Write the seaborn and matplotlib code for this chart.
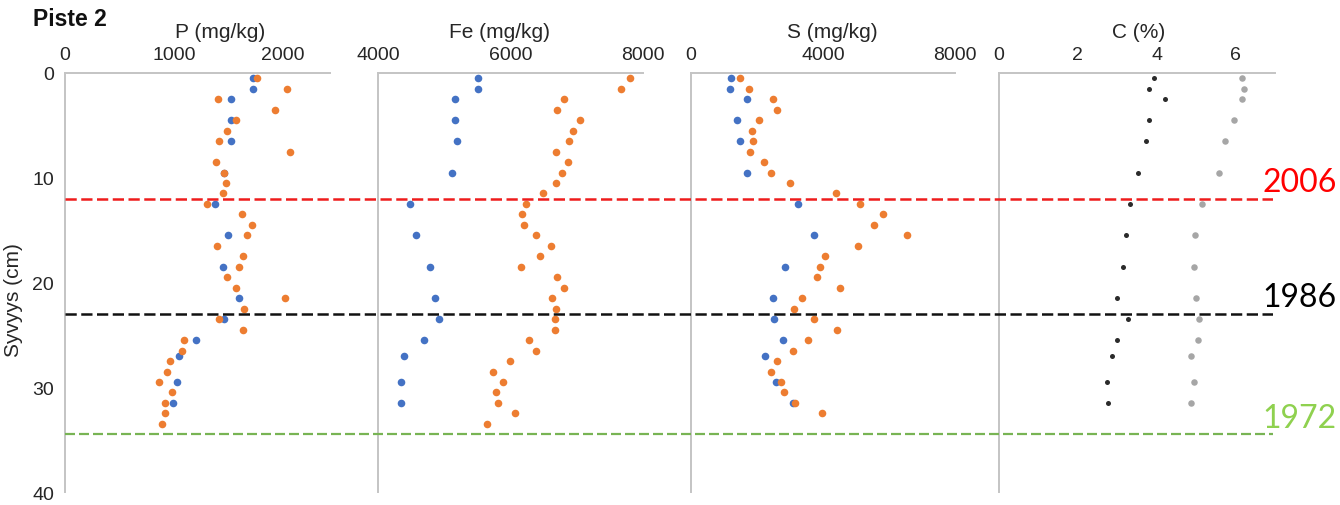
import numpy as np
import pandas as pd
import matplotlib
matplotlib.use("Agg")
import matplotlib.pyplot as plt
import seaborn as sns

# ---------------- data ----------------
depth_orange = [0.5, 1.5, 2.5, 3.5, 4.5, 5.5, 6.5, 7.5, 8.5, 9.5, 10.5, 11.5, 12.5, 13.5, 14.5,
                15.5, 16.5, 17.5, 18.5, 19.5, 20.5, 21.5, 22.5, 23.5, 24.5, 25.5, 26.5, 27.5,
                28.5, 29.5, 30.5, 31.5, 32.5, 33.5]
depth_blue = [0.5, 1.5, 2.5, 4.5, 6.5, 9.5, 12.5, 15.5, 18.5, 21.5, 23.5, 25.5, 27.0, 29.5, 31.5]

P_orange = [1763, 2039, 1401, 1929, 1570, 1484, 1414, 2067, 1386, 1460, 1478, 1453, 1303, 1625, 1717,
            1665, 1398, 1631, 1592, 1481, 1564, 2015, 1638, 1411, 1631, 1089, 1070, 960,
            938, 859, 984, 917, 917, 886]
P_blue = [1723, 1723, 1518, 1518, 1518, 1460, 1374, 1494, 1453, 1592, 1460, 1205, 1046, 1030, 987]

Fe_orange = [7805, 7674, 6812, 6702, 7053, 6937, 6877, 6682, 6867, 6772, 6692, 6486, 6241, 6180, 6200,
             6391, 6607, 6446, 6160, 6697, 6812, 6622, 6692, 6677, 6672, 6276, 6381, 5985,
             5739, 5890, 5784, 5804, 6065, 5649]
Fe_blue = [5509, 5509, 5168, 5158, 5193, 5113, 4476, 4571, 4792, 4862, 4917, 4697, 4396, 4351, 4341]

S_orange = [1475, 1758, 2495, 2616, 2061, 1859, 1879, 1798, 2222, 2424, 3000, 4394, 5111, 5828, 5545,
            6535, 5051, 4061, 3899, 3828, 4515, 3374, 3131, 3737, 4424, 3545, 3081, 2616,
            2424, 2727, 2828, 3152, 3960, np.nan]
S_blue = [1202, 1192, 1707, 1404, 1475, 1687, 3242, 3737, 2859, 2475, 2525, 2778, 2242, 2586, 3081]

C_black = [3.92, 3.81, 4.22, 3.81, 3.74, 3.53, 3.32, 3.22, 3.14, 3.00, 3.27, 2.99, 2.87, 2.75, 2.77]
C_gray = [6.16, 6.21, 6.16, 5.97, 5.74, 5.57, 5.16, 4.98, 4.94, 4.99, 5.07, 5.05, 4.88, 4.94, 4.87]

panel_titles = ["P (mg/kg)", "Fe (mg/kg)", "S (mg/kg)", "C (%)"]
panel_xticks = [[0, 1000, 2000], [4000, 6000, 8000], [0, 4000, 8000], [0, 2, 4, 6]]
panel_xlims = [(0, 2430), (4000, 8000), (0, 8000), (0, 7)]
y_ticks = [0, 10, 20, 30, 40]

year_labels = ["2006", "1986", "1972"]
year_depths = [12.0, 23.0, 34.5]

# ---------------- style ----------------
sns.set_theme(style="white")
plt.rcParams["font.family"] = ["Liberation Sans", "DejaVu Sans"]

W, H = 1340, 506
fig = plt.figure(figsize=(W / 100, H / 100), dpi=100)

def fx(px):
    return px / W

top_px, bot_px = 74, 493
bottom = 1 - bot_px / H
height = (bot_px - top_px) / H

panels_px = [(65, 330), (378, 643), (691, 955), (999, 1275)]
title_xfrac = [0.585, 0.46, 0.534, 0.507]

c_orange = "#ED7D31"
c_blue = "#4472C4"
c_black = "#2b2b2b"
c_gray = "#a6a6a6"
spine_c = "#c4c4c4"

df_o = pd.DataFrame({"depth": depth_orange, "P": P_orange, "Fe": Fe_orange, "S": S_orange})
df_b = pd.DataFrame({"depth": depth_blue, "P": P_blue, "Fe": Fe_blue, "S": S_blue,
                     "Cb": C_black, "Cg": C_gray})

axes = []
for i, (l, r) in enumerate(panels_px):
    ax = fig.add_axes([fx(l), bottom, fx(r - l), height])
    axes.append(ax)
    if i < 3:
        var = ["P", "Fe", "S"][i]
        sns.scatterplot(data=df_b, x=var, y="depth", ax=ax, color=c_blue, s=30,
                        linewidth=0, zorder=3)
        sns.scatterplot(data=df_o, x=var, y="depth", ax=ax, color=c_orange, s=30,
                        linewidth=0, zorder=4)
    else:
        sns.scatterplot(data=df_b, x="Cb", y="depth", ax=ax, color=c_black, s=13,
                        linewidth=0, zorder=3)
        sns.scatterplot(data=df_b, x="Cg", y="depth", ax=ax, color=c_gray, s=22,
                        linewidth=0, zorder=3)
    ax.set_xlim(*panel_xlims[i])
    ax.set_ylim(40, 0)
    ax.set_xticks(panel_xticks[i])
    ax.xaxis.tick_top()
    ax.tick_params(axis="x", which="both", length=0, pad=7, labelsize=14, colors="#262626")
    ax.set_xlabel("")
    ax.set_ylabel("")
    for side in ["right", "bottom"]:
        ax.spines[side].set_visible(False)
    for side in ["left", "top"]:
        ax.spines[side].set_color(spine_c)
        ax.spines[side].set_linewidth(1.4)
    ax.patch.set_alpha(0)
    ax.text(title_xfrac[i], 1.10, panel_titles[i], transform=ax.transAxes,
            ha="center", va="center", fontsize=15, color="#262626")
    if i == 0:
        ax.set_yticks(y_ticks)
        ax.tick_params(axis="y", length=0, pad=8, labelsize=14, colors="#262626")
        ax.set_ylabel("Syvyys (cm)", fontsize=15, color="#262626")
        ax.yaxis.set_label_coords(-(65 - 23) / 265, (bot_px - 300) / (bot_px - top_px))
    else:
        ax.set_yticks([])

# overlay axes for the dated horizons
ov = fig.add_axes([fx(65), bottom, fx(1273 - 65), height])
ov.set_xlim(0, 1)
ov.set_ylim(40, 0)
ov.axis("off")
ov.patch.set_alpha(0)
line_cols = ["#ee1c1c", "#111111", "#78b454"]
text_cols = ["#ff0000", "#000000", "#8fd14f"]
line_w = [1.8, 1.8, 1.6]
for yd, lab, lc, tc, lw in zip(year_depths, year_labels, line_cols, text_cols, line_w):
    ov.axhline(yd, color=lc, lw=lw, ls=(0, (4.5, 1.8)), zorder=5)
    ov.text(0.991, yd - 0.75, lab, ha="left", va="baseline", fontsize=23,
            color=tc, family=["Lato", "DejaVu Sans"], clip_on=False)

fig.text(fx(33), 1 - 19 / H, "Piste 2", fontsize=16.5, fontweight="bold",
         ha="left", va="center", color="#111111")

fig.savefig("out.png", dpi=100)
